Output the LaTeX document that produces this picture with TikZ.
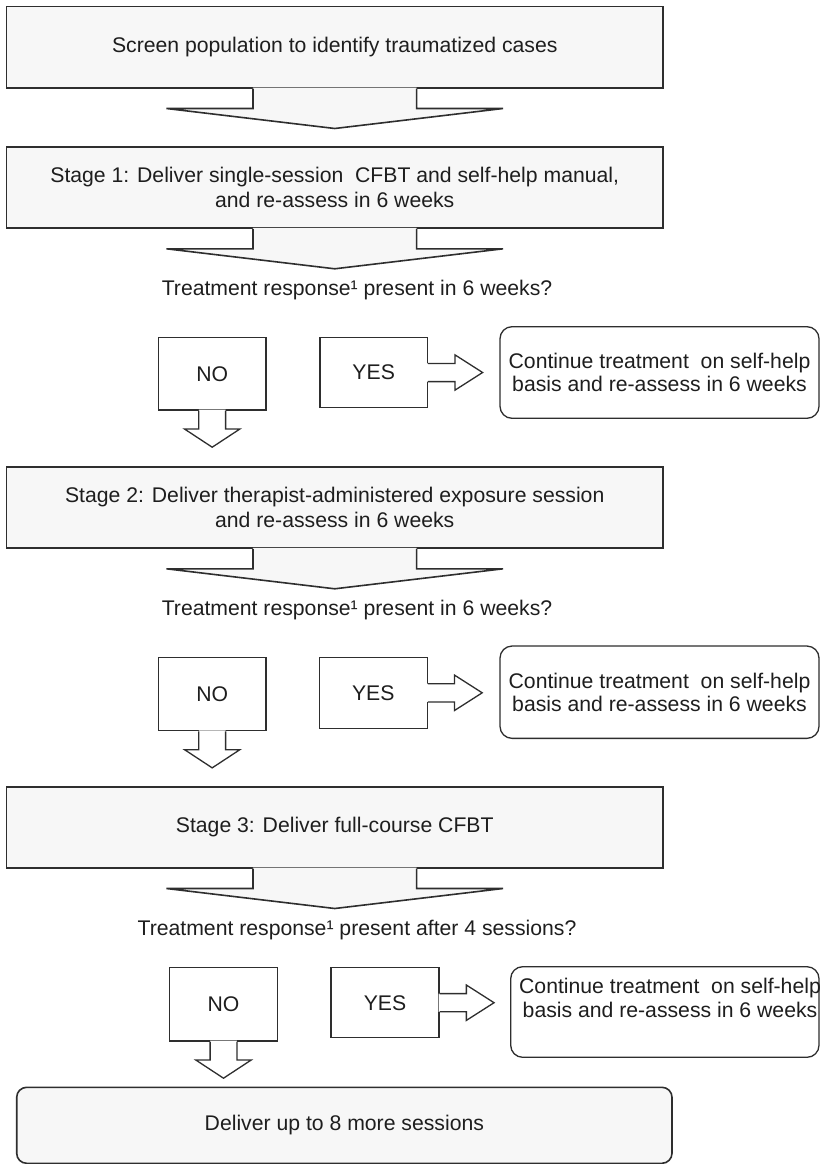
\documentclass[tikz,border=0pt]{standalone}
\usepackage{fontspec}
\setmainfont{Liberation Sans}
\definecolor{boxgray}{HTML}{F7F7F7}
\definecolor{linegray}{HTML}{2E2E2E}
\definecolor{textgray}{HTML}{1E1E1E}

\begin{document}
\begin{tikzpicture}[x=1pt,y=-1pt]
        \tikzstyle{every node}=[font=\fontsize{21.2}{25}\selectfont, text=textgray, inner sep=0pt];
        \tikzstyle{stage}=[draw=linegray, fill=boxgray, line width=1.6pt, minimum width=656.5pt, minimum height=81pt, align=center];
        \tikzstyle{choice}=[draw=linegray, fill=white, line width=1.3pt, minimum width=107.7pt];
        \tikzstyle{cont}=[draw=linegray, fill=white, line width=1.3pt, rounded corners=12pt, minimum width=319pt, minimum height=91.6pt, align=center, font=\fontsize{21.2}{23.3}\selectfont];
        \tikzstyle{outline}=[draw=linegray, line width=1.6pt];
        \tikzstyle{thin}=[draw=linegray, line width=1.3pt];
        \useasboundingbox (0,0) rectangle (820,1164);

        % stages
        \node[stage] (scr) at (334.75,47.2) {Screen population to identify traumatized cases};
        \node[stage] (st1) at (334.75,187.5) {Stage 1: Deliver single-session~ CFBT and self-help manual,\\and re-assess in 6 weeks};
        \node[stage] (st2) at (334.75,507.5) {Stage 2: Deliver therapist-administered exposure session\\and re-assess in 6 weeks};
        \node[stage] (st3) at (334.75,827.2) {Stage 3: Deliver full-course CFBT};
        \node[stage, rounded corners=10pt, minimum width=655.3pt, minimum height=76pt] (del) at (344.35,1125.3) {Deliver up to 8 more sessions};

        % questions
        \node (q1) at (357,290) {Treatment response¹ present in 6 weeks?};
        \node (q2) at (357,610) {Treatment response¹ present in 6 weeks?};
        \node (q3) at (357,930) {Treatment response¹ present after 4 sessions?};

        % answers
        \node[choice, minimum height=72.7pt] (no1) at (212.2,373.7) {NO};
        \node[choice, minimum height=70.4pt] (yes1) at (373.7,372.5) {YES};
        \node[cont] (con1) at (659.5,372.5) {Continue treatment~ on self-help\\basis and re-assess in 6 weeks};

        \node[choice, minimum height=73.4pt] (no2) at (212.2,694) {NO};
        \node[choice, minimum height=71pt] (yes2) at (373.3,692.8) {YES};
        \node[cont, minimum height=92.3pt] (con2) at (659.5,692.2) {Continue treatment~ on self-help\\basis and re-assess in 6 weeks};

        \node[choice, minimum width=108.4pt, minimum height=73.3pt] (no3) at (223.5,1004.4) {NO};
        \node[choice, minimum width=108pt, minimum height=70pt] (yes3) at (385,1002.7) {YES};
        \node[cont, minimum width=308.3pt, minimum height=90.6pt] (con3) at (664.85,1012) {};
        \node[align=center, font=\fontsize{21.2}{23.3}\selectfont] (con3t) at (670,998) {Continue treatment~ on self-help\\basis and re-assess in 6 weeks};

        % block arrows below the stages
        \foreach \nm in {scr,st1,st2,st3} {
            \fill[boxgray] (\nm.south) ++(-81.8,-1) -- ++(0,21) -- ++(-86.5,0) -- ++(168.3,20) -- ++(168.3,-20) -- ++(-86.5,0) -- ++(0,-21) -- cycle;
            \draw[outline] (\nm.south) ++(-81.8,0) -- ++(0,20) -- ++(-86.5,0) -- ++(168.3,20) -- ++(168.3,-20) -- ++(-86.5,0) -- ++(0,-20);
        }
        \foreach \nm in {no1,no2,no3} {
            \fill[white] (\nm.south) ++(-13.4,-1) -- ++(0,19.3) -- ++(-14.3,0) -- ++(27.7,18.2) -- ++(27.7,-18.2) -- ++(-14.3,0) -- ++(0,-19.3) -- cycle;
            \draw[thin] (\nm.south) ++(-13.4,0) -- ++(0,18.3) -- ++(-14.3,0) -- ++(27.7,18.2) -- ++(27.7,-18.2) -- ++(-14.3,0) -- ++(0,-18.3);
        }
        \foreach \nm in {yes1,yes2,yes3} {
            \fill[white] (\nm.east) ++(-1,-9.1) -- ++(27.7,0) -- ++(0,-8.6) -- ++(27.7,17.7) -- ++(-27.7,17.7) -- ++(0,-8.6) -- ++(-27.7,0) -- cycle;
            \draw[thin] (\nm.east) ++(0,-9.1) -- ++(26.7,0) -- ++(0,-8.6) -- ++(27.7,17.7) -- ++(-27.7,17.7) -- ++(0,-8.6) -- ++(-26.7,0);
        }
    \end{tikzpicture}
\end{document}
